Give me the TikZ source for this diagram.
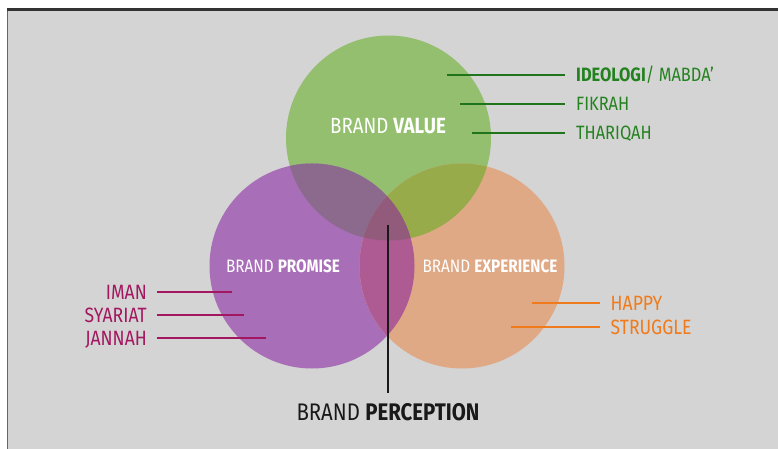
\documentclass[tikz,border=0pt]{standalone}
\usepackage{fontspec}
\setmainfont[FakeStretch=0.85]{Fira Sans}

\definecolor{vgreen}{HTML}{93BF6F}
\definecolor{vpurple}{HTML}{A86EB7}
\definecolor{vorange}{HTML}{DFA986}
\definecolor{mixgp}{HTML}{8B6A8D}
\definecolor{mixgo}{HTML}{98AB4B}
\definecolor{mixpo}{HTML}{AE5A93}
\definecolor{mixall}{HTML}{925B7C}
\definecolor{tgreen}{HTML}{23821F}
\definecolor{tpurple}{HTML}{A2175F}
\definecolor{torange}{HTML}{EF7B1C}
\definecolor{panel}{HTML}{D4D4D4}

\begin{document}
\begin{tikzpicture}[
        x=1pt, y=-1pt, % координаты в точках, ось y вниз
        ring/.style={circle, minimum size=205pt, inner sep=0pt}, % круги
        title/.style={inner sep=0pt, anchor=base, text=white, font=\fontsize{18}{18}\selectfont},
        glabel/.style={anchor=west, inner xsep=11pt, inner ysep=0pt, text height=13.3pt, text depth=0pt,
            text=tgreen, font=\fontsize{19.3}{19.3}\selectfont},
        plabel/.style={anchor=east, inner xsep=10pt, inner ysep=0pt, text height=14.3pt, text depth=0pt,
            text=tpurple, font=\fontsize{20.7}{20.7}\selectfont},
        olabel/.style={anchor=west, inner xsep=10.5pt, inner ysep=0pt, text height=14.3pt, text depth=0pt,
            text=torange, font=\fontsize{20.7}{20.7}\selectfont},
        leader/.style={line width=1.4pt}, % выноски
    ]

    % фон и рамка
    \useasboundingbox (0,0) rectangle (778,449);
    \fill[white] (0,0) rectangle (778,449);
    \fill[panel] (8,11) rectangle (778,449);
    \fill[black!80] (7,8) rectangle (778,11.5);
    \draw[black!60, line width=1.5pt] (7.5,11) -- (7.5,449);

    % три круга
    \node[ring, fill=vgreen] (vring) at (388.5,138) {};
    \node[ring, fill=vpurple] (pring) at (312,266) {};
    \node[ring, fill=vorange] (ering) at (462,266) {};

    % пересечения
    \begin{scope}
        \clip (vring.center) circle (102.5pt);
        \fill[mixgp] (pring.center) circle (102.5pt);
        \fill[mixgo] (ering.center) circle (102.5pt);
    \end{scope}
    \begin{scope}
        \clip (pring.center) circle (102.5pt);
        \fill[mixpo] (ering.center) circle (102.5pt);
        \clip (ering.center) circle (102.5pt);
        \fill[mixall] (vring.center) circle (102.5pt);
    \end{scope}

    % подписи кругов
    \node[title, font=\fontsize{22}{22}\selectfont] (vtitle) at (388,134) {BRAND \textbf{VALUE}};
    \node[title] (ptitle) at (283,272.5) {BRAND \textbf{PROMISE}};
    \node[title] (etitle) at (490,272) {BRAND \textbf{EXPERIENCE}};

    % BRAND VALUE
    \node[glabel] (ideologi) at (565,75) {\textbf{IDEOLOGI}/ MABDA'};
    \node[glabel] (fikrah) at (565,104) {FIKRAH};
    \node[glabel] (thariqah) at (565,133) {THARIQAH};
    \coordinate (ideologi-in) at (447,75);
    \coordinate (fikrah-in) at (460,104);
    \coordinate (thariqah-in) at (472,133);
    \foreach \n in {ideologi, fikrah, thariqah}
        \draw[leader, tgreen!90!black] (\n-in) -- (\n.west);

    % BRAND PROMISE
    \node[plabel] (iman) at (157,292) {IMAN};
    \node[plabel] (syariat) at (157,315) {SYARIAT};
    \node[plabel] (jannah) at (157,338) {JANNAH};
    \coordinate (iman-in) at (232,292);
    \coordinate (syariat-in) at (244,315);
    \coordinate (jannah-in) at (266,338);
    \foreach \n in {iman, syariat, jannah}
        \draw[leader, tpurple] (\n.east) -- (\n-in);

    % BRAND EXPERIENCE
    \node[olabel] (happy) at (600,303) {HAPPY};
    \node[olabel] (struggle) at (600,327) {STRUGGLE};
    \coordinate (happy-in) at (532,303);
    \coordinate (struggle-in) at (511,327);
    \foreach \n in {happy, struggle}
        \draw[leader, torange] (\n-in) -- (\n.west);

    % BRAND PERCEPTION
    \node[inner xsep=0pt, inner ysep=10.5pt, text height=16.7pt, text depth=0pt, anchor=base,
        font=\fontsize{24}{24}\selectfont, text=black!90] (perception) at (388,420) {BRAND \textbf{PERCEPTION}};
    \coordinate (center) at (388,225);
    \draw[line width=2pt, black!90] (center) -- (perception.north);
\end{tikzpicture}
\end{document}
